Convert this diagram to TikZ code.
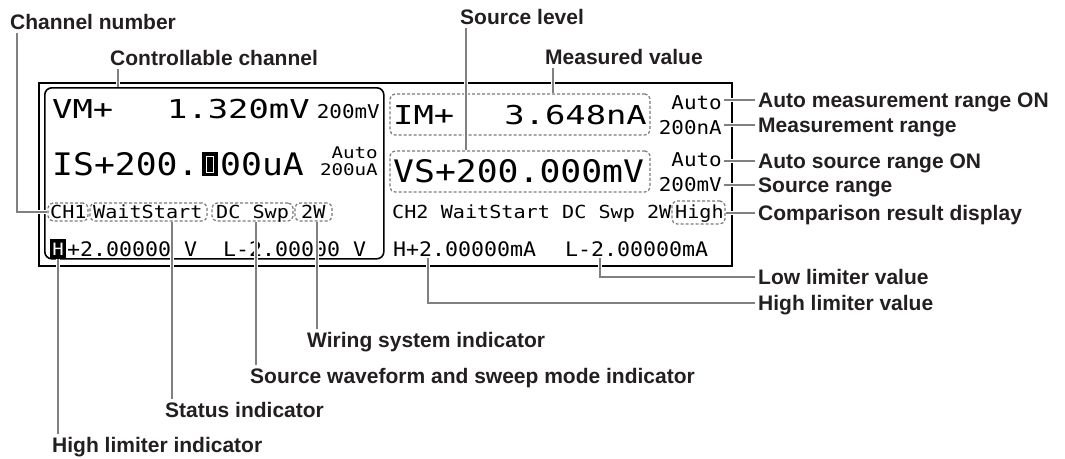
\documentclass[tikz,border=0pt]{standalone}
\usepackage{fontspec}
\setmainfont{Liberation Sans}
\newfontfamily\lcdA{DejaVu Sans Mono}[FakeStretch=1.30]
\newfontfamily\lcdB{DejaVu Sans Mono}[FakeStretch=1.12]
\newfontfamily\lcdC{DejaVu Sans Mono}[FakeStretch=1.08]
\newfontfamily\lcdD{DejaVu Sans Mono}[FakeStretch=1.12]
\newfontfamily\lcdE{DejaVu Sans Mono}[FakeStretch=1.10]
\newfontfamily\lcdF{DejaVu Sans Mono}[FakeStretch=1.20]
\usetikzlibrary{calc}
\definecolor{lblc}{HTML}{231F20}
\definecolor{leadc}{HTML}{808080}
\definecolor{dashc}{HTML}{7A7A7A}
\begin{document}
\begin{tikzpicture}[x=1pt,y=-1pt,
  lbl/.style={font=\bfseries\fontsize{21}{24}\selectfont, text=lblc, inner sep=0pt, anchor=west, text height=15pt, text depth=0pt},
  lcdmeas/.style={font=\lcdA\fontsize{26}{30}\selectfont, inner sep=0pt, anchor=base west},
  lcdsrc/.style={font=\lcdB\fontsize{31}{34}\selectfont, inner sep=0pt, anchor=base west},
  lcdlim/.style={font=\lcdC\fontsize{20}{22}\selectfont, inner sep=0pt, anchor=base west},
  lcdstat/.style={font=\lcdD\fontsize{18}{20}\selectfont, inner sep=0pt, anchor=base west},
  lcdrng/.style={font=\lcdE\fontsize{19}{21}\selectfont, inner sep=0pt, anchor=base east},
  lcdtiny/.style={font=\lcdF\fontsize{16}{17}\selectfont, inner sep=0pt, anchor=base east},
  dbox/.style={draw=dashc, line width=1.2pt, dash pattern=on 3pt off 2pt, rounded corners=5pt, inner sep=0pt},
  lead/.style={draw=leadc, line width=1.3pt, preaction={draw=white, line width=4.5pt}},
]
\useasboundingbox (0,0) rectangle (1065,458);

% display frame
\node[draw=black, line width=2pt, minimum width=693pt, minimum height=183pt, inner sep=0pt, anchor=north west] (frame) at (38,82) {};
\node[draw=black, line width=1.6pt, rounded corners=7pt, minimum width=339pt, minimum height=171pt, inner sep=0pt, anchor=north west] (ch1box) at (44,87) {};

% dashed boxes
\node[dbox, minimum width=260pt, minimum height=41pt] (bim) at (520,114.5) {};
\node[dbox, minimum width=260pt, minimum height=41pt] (bvs) at (520,171.5) {};
\node[dbox, minimum width=40pt, minimum height=18pt] (bch1) at (68,212) {};
\node[dbox, minimum width=117pt, minimum height=18pt] (bwait) at (148.5,212) {};
\node[dbox, minimum width=81pt, minimum height=18pt] (bdc) at (252.5,212) {};
\node[dbox, minimum width=37pt, minimum height=18pt] (b2w) at (313.5,212) {};
\node[dbox, minimum width=53pt, minimum height=23pt] (bhigh) at (698.5,212.5) {};

% channel 1 display
\node[lcdmeas] (vm) at (52,118) {VM+};
\node[lcdmeas] (vmv) at (167,118) {1.320mV};
\node[lcdrng] (vmr) at (380,118) {200mV};
\node[lcdsrc] (is) at (52,175) {IS+200.};
\node[fill=black, minimum width=16pt, minimum height=24pt, inner sep=0pt, anchor=north west] (cur) at (202,152) {};
\node[draw=white, line width=1.2pt, minimum width=7pt, minimum height=16pt, inner sep=0pt] (curin) at (cur.center) {};
\node[lcdsrc] (isv) at (220,175) {00uA};
\node[lcdtiny] (isA) at (378,158) {Auto};
\node[lcdtiny] (isR) at (378,175) {200uA};
\node[lcdstat] (tch1) at (50,218) {CH1};
\node[lcdstat] (twait) at (93,218) {WaitStart};
\node[lcdstat] (tdc) at (216,218) {DC Swp};
\node[lcdstat] (t2w) at (301,218) {2W};
\node[fill=black, text=white, font=\lcdD\fontsize{17}{18}\selectfont, minimum width=16pt, minimum height=20pt, inner sep=0pt] (hblk) at (58,249) {H};
\node[lcdlim] (h1) at (67,256) {+2.00000 V};
\node[lcdlim] (l1) at (223,256) {L-2.00000 V};

% channel 2 display
\node[lcdmeas] (im) at (393,124) {IM+};
\node[lcdmeas, anchor=base east] (imv) at (647,124) {3.648nA};
\node[lcdsrc] (vs) at (393,182) {VS+200.000mV};
\node[lcdrng] (imA) at (722,109) {Auto};
\node[lcdrng] (imR) at (722,134) {200nA};
\node[lcdrng] (vsA) at (722,166) {Auto};
\node[lcdrng] (vsR) at (722,191) {200mV};
\node[lcdstat] (tch2) at (392,218) {CH2 WaitStart DC Swp 2W};
\node[lcdstat] (thigh) at (675,218) {High};
\node[lcdlim] (h2) at (393,256) {H+2.00000mA};
\node[lcdlim] (l2) at (565,256) {L-2.00000mA};

% labels
\node[lbl] (lChan) at (10,22) {Channel number};
\node[lbl] (lCtrl) at (110,58) {Controllable channel};
\node[lbl] (lSrc) at (460,17) {Source level};
\node[lbl] (lMeas) at (545,57) {Measured value};
\node[lbl] (lAM) at (758,100) {Auto measurement range ON};
\node[lbl] (lMR) at (758,125) {Measurement range};
\node[lbl] (lASR) at (758,161) {Auto source range ON};
\node[lbl] (lSR) at (758,185) {Source range};
\node[lbl] (lCmp) at (758,213) {Comparison result display};
\node[lbl] (lLow) at (758,277) {Low limiter value};
\node[lbl] (lHigh) at (758,303) {High limiter value};
\node[lbl] (lWire) at (307,340) {Wiring system indicator};
\node[lbl] (lWave) at (250,376) {Source waveform and sweep mode indicator};
\node[lbl] (lStat) at (165,410) {Status indicator};
\node[lbl] (lHLI) at (52,445) {High limiter indicator};

% leader anchor points
\coordinate (pCtrl) at (118,0);
\coordinate (pSrc) at (466,0);
\coordinate (pMeas) at (553,0);
\coordinate (pLo) at (600,258);
\coordinate (pHi) at (428,258);
\coordinate (pW) at (317,0);
\coordinate (pDC) at (256,0);
\coordinate (pSt) at (172,0);

% leaders
\draw[lead] ([xshift=7pt,yshift=-3pt]lChan.south west) |- (bch1.west);
\draw[lead] ([yshift=-3pt]lCtrl.south -| pCtrl) -- (ch1box.north -| pCtrl);
\draw[lead] ([yshift=-3pt]lSrc.south -| pSrc) -- (bvs.north -| pSrc);
\draw[lead] ([yshift=-3pt]lMeas.south -| pMeas) -- (bim.north -| pMeas);
\draw[lead] ([xshift=2pt]lAM.west -| imA.east) -- ([xshift=-3pt]lAM.west);
\draw[lead] ([xshift=2pt]lMR.west -| imR.east) -- ([xshift=-3pt]lMR.west);
\draw[lead] ([xshift=2pt]lASR.west -| vsA.east) -- ([xshift=-3pt]lASR.west);
\draw[lead] ([xshift=2pt]lSR.west -| vsR.east) -- ([xshift=-3pt]lSR.west);
\draw[lead] (lCmp.west -| bhigh.east) -- ([xshift=-3pt]lCmp.west);
\draw[lead] (pLo) |- ([xshift=-3pt]lLow.west);
\draw[lead] (pHi) |- ([xshift=-3pt]lHigh.west);
\draw[lead] (b2w.south -| pW) -- ([yshift=3pt]lWire.north -| pW);
\draw[lead] (bdc.south -| pDC) -- ([yshift=3pt]lWave.north -| pDC);
\draw[lead] (bwait.south -| pSt) -- ([yshift=3pt]lStat.north -| pSt);
\draw[lead] (hblk.south) -- ([yshift=3pt]lHLI.north -| hblk.south);
\end{tikzpicture}
\end{document}
